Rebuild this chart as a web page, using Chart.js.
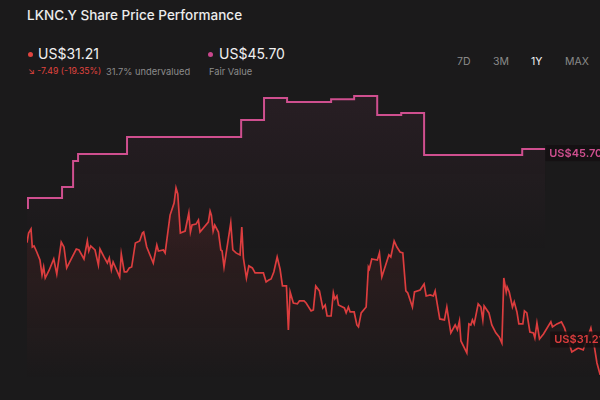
<!DOCTYPE html>
<html>
<head>
<meta charset="utf-8">
<script src="https://cdn.jsdelivr.net/npm/chart.js@4"></script>
<style>
  body { margin: 0; background: #1b1a1b; width: 600px; height: 400px; overflow: hidden; font-family: Inter, "Noto Sans", sans-serif; position: relative; }
  .abs { position: absolute; white-space: nowrap; line-height: 1.2; }
  #title { left: 27px; top: 7px; font-size: 13.5px; color: #ececec; font-weight: 500; }
  .dot { width: 5px; height: 5px; border-radius: 50%; }
  .big { font-size: 14px; color: #f0f0f0; top: 46px; }
  .small { font-size: 9px; top: 66px; }
  .range { top: 56px; font-size: 10.5px; color: #8a8a8a; }
  #chartBox { position: absolute; left: 27px; top: 90px; width: 573px; height: 310px; }
</style>
</head>
<body>
<div id="title" class="abs">LKNC.Y Share Price Performance</div>

<div class="abs dot" style="left:28px;top:52px;background:#e0443f"></div>
<div class="abs big" style="left:38px">US$31.21</div>
<div class="abs small" style="left:28px;color:#e0443f;font-size:8.7px">&#8600; -7.49 (-19.35%)</div>
<div class="abs small" style="left:106px;color:#8c8c8c;font-size:9.3px">31.7% undervalued</div>

<div class="abs dot" style="left:208px;top:52px;background:#c9468c"></div>
<div class="abs big" style="left:219px">US$45.70</div>
<div class="abs small" style="left:209px;color:#8c8c8c;font-size:9.3px">Fair Value</div>

<div class="abs range" style="left:457px">7D</div>
<div class="abs range" style="left:493px">3M</div>
<div class="abs range" style="left:531px;color:#f2f2f2">1Y</div>
<div class="abs range" style="left:565px">MAX</div>

<div id="chartBox"><canvas id="chart"></canvas></div>

<script>
// share price, day offset from one year ago
const priceDays = [0, 1, 2.5, 3.3, 4.4, 6.1, 8.1, 9.4, 10.4, 11.4, 13.9, 16.7, 18.6, 21.4, 23.1, 24.8, 27.9, 30.8, 32.5, 35.6,
  37.7, 38.6, 39.8, 42.5, 44.6, 45.6, 48.1, 50.2, 51.4, 52.7, 53.8, 57.9, 58.9, 60.8, 62.3, 63.9, 65.4, 67.7, 70.4, 72.1,
  72.9, 74.8, 78.9, 81.1, 82.1, 85.2, 86.3, 89.4, 91.9, 93.1, 94.2, 95.8, 98.8, 101.1, 102.1, 103.1, 105.6, 107.1, 108.1, 113.3,
  114.4, 115.2, 116.3, 117.3, 119.6, 121.1, 121.9, 123.1, 127.3, 128.6, 130.6, 133.1, 134.2, 135.2, 137.1, 138.6, 140.8, 142.5, 144.8, 147.7,
  149.4, 151.1, 152.5, 154.2, 156.3, 158.1, 159.6, 162.1, 163.3, 164.4, 166.4, 168.9, 170.2, 173.1, 174.4, 177.5, 178.9, 180.4, 182.7, 184.8,
  186.3, 187.5, 190, 191.4, 192.3, 193.6, 194.6, 198.3, 199.4, 200.8, 201.9, 204.4, 206.1, 207.1, 208.8, 211.9, 213.3, 213.9, 215.4, 218.9,
  220.2, 221.7, 226.1, 227.3, 229.4, 231.1, 233.1, 234.8, 236.7, 237.9, 240.8, 242.1, 245.6, 248.1, 249.4, 251.9, 253.9, 255, 256.3, 257.9,
  260.8, 262.3, 263.8, 264.8, 267.5, 268.9, 270.2, 271.1, 274.8, 276.1, 277.3, 278.3, 279.4, 281.9, 283.6, 284.8, 285.6, 288.6, 290.4, 292.9,
  295, 296.7, 297.9, 299.4, 300, 301.3, 303.3, 304.4, 306.1, 307.3, 309.8, 310.8, 312.3, 314.2, 316.4, 317.3, 318.6, 320.2, 322.7, 327.3,
  328.3, 331.1, 333.9, 335.8, 340.4, 344.4, 347.5, 352.3, 354.6, 356.1, 358.1];
const priceValues = [38.72, 39.44, 39.74, 38.40, 38.48, 38.03, 37.43, 36.32, 36.91, 36.09, 36.69, 37.51, 36.39, 38.77, 38.40, 36.84, 37.58, 38.25, 38.18, 37.51,
  38.85, 38.10, 38.48, 38.18, 37.06, 38.25, 37.66, 37.21, 37.58, 36.69, 37.29, 36.17, 37.88, 36.54, 36.54, 36.84, 36.91, 38.70, 38.85, 39.44,
  39.52, 38.40, 37.21, 38.55, 38.10, 38.18, 37.96, 40.78, 41.68, 42.80, 42.35, 39.44, 39.59, 40.93, 39.52, 40.04, 40.11, 40.41, 39.52, 40.26,
  41.08, 40.78, 39.59, 40.04, 39.52, 38.18, 38.10, 36.91, 40.19, 38.18, 37.96, 37.81, 39.89, 37.58, 36.09, 36.99, 36.84, 36.47, 36.47, 36.47,
  35.80, 35.94, 36.02, 36.54, 37.66, 36.76, 35.50, 35.50, 32.22, 35.05, 34.23, 34.16, 34.38, 34.38, 34.23, 33.64, 33.71, 35.50, 35.13, 33.86,
  34.08, 33.26, 33.26, 34.98, 34.53, 34.75, 34.08, 33.86, 33.49, 33.93, 33.56, 33.56, 32.59, 32.45, 33.49, 33.93, 36.91, 36.76, 37.51, 37.43,
  37.96, 36.17, 37.81, 37.66, 38.85, 38.40, 38.03, 37.96, 35.13, 34.98, 33.93, 35.05, 35.20, 35.65, 34.75, 34.83, 34.75, 35.13, 34.16, 33.04,
  32.97, 33.93, 32.74, 32.00, 32.59, 32.22, 32.89, 31.40, 30.51, 32.67, 32.59, 32.97, 32.67, 34.16, 33.93, 32.97, 34.01, 33.49, 32.59, 32.00,
  31.70, 31.25, 36.09, 35.05, 35.42, 35.05, 33.93, 34.31, 33.56, 32.67, 32.67, 33.64, 33.49, 32.07, 32.00, 31.63, 32.74, 31.55, 31.92, 32.82,
  32.45, 32.67, 32.82, 32.37, 30.58, 30.88, 30.73, 32.37, 30.88, 29.76, 28.87];

// fair value estimate, each level holds until the next entry
const fairDays = [0, 0.6, 21.9, 28.8, 31.9, 62.5, 133.8, 148.1, 162.5, 190, 204.4, 218.8, 233.8, 248.1, 309.4, 323.8];
const fairValues = [41.31, 42.05, 42.87, 44.81, 45.33, 46.59, 47.86, 49.50, 49.20, 49.42, 49.65, 48.23, 48.38, 45.25, 45.70, 45.70];

const lastPrice = 31.21;
const fairValue = 45.70;
const priceColor = "#dc3d3e";
const fairColor = "#cf4f8f";

function toPoints(xs, ys) {
  return xs.map((x, i) => ({ x: x, y: ys[i] }));
}

function fadeFill(rgb, topValue, bottomValue, alpha) {
  return function (ctx) {
    const chart = ctx.chart;
    if (!chart.chartArea) return "transparent";
    const y = chart.scales.y;
    const g = chart.ctx.createLinearGradient(0, y.getPixelForValue(topValue), 0, y.getPixelForValue(bottomValue));
    g.addColorStop(0, "rgba(" + rgb + "," + alpha + ")");
    g.addColorStop(1, "rgba(" + rgb + ",0)");
    return g;
  };
}

// value tags starting where the fair value line ends
const tagPlugin = {
  id: "tags",
  afterDatasetsDraw(chart) {
    const c = chart.ctx;
    const x = chart.scales.x;
    const y = chart.scales.y;
    const left = x.getPixelForValue(fairDays[fairDays.length - 1]);
    c.save();
    c.font = "600 11px Inter, 'Noto Sans', sans-serif";
    c.textBaseline = "middle";
    [[fairValue, fairColor, "rgba(20,16,18,0.85)", 4, 0], [lastPrice, priceColor, "rgba(24,16,16,0.85)", -4, 5]].forEach(t => {
      const text = "US$" + t[0].toFixed(2);
      const py = y.getPixelForValue(t[0]) + t[3];
      const x0 = left + t[4];
      const w = c.measureText(text).width;
      c.fillStyle = t[2];
      c.fillRect(x0, py - 8, w + 10, 16);
      c.fillStyle = t[1];
      c.fillText(text, x0 + 4, py + 0.5);
    });
    c.restore();
  }
};

new Chart(document.getElementById("chart"), {
  type: "line",
  data: {
    datasets: [
      {
        label: "Fair Value",
        data: toPoints(fairDays, fairValues),
        stepped: true,
        borderColor: fairColor,
        borderWidth: 2,
        pointRadius: 0,
        fill: "start",
        backgroundColor: fadeFill("200,80,140", 49, 38, 0.07)
      },
      {
        label: "Share Price",
        data: toPoints(priceDays, priceValues),
        borderColor: priceColor,
        borderWidth: 1.7,
        pointRadius: 0,
        tension: 0,
        fill: "start",
        backgroundColor: fadeFill("220,60,62", 42, 28.5, 0.13)
      }
    ]
  },
  options: {
    responsive: true,
    maintainAspectRatio: false,
    animation: false,
    layout: { padding: 0 },
    plugins: { legend: { display: false }, tooltip: { enabled: false } },
    scales: {
      x: { type: "linear", min: 0, max: 358, display: false },
      y: { min: 27.0, max: 50.1, display: false }
    }
  },
  plugins: [tagPlugin]
});
</script>
</body>
</html>
